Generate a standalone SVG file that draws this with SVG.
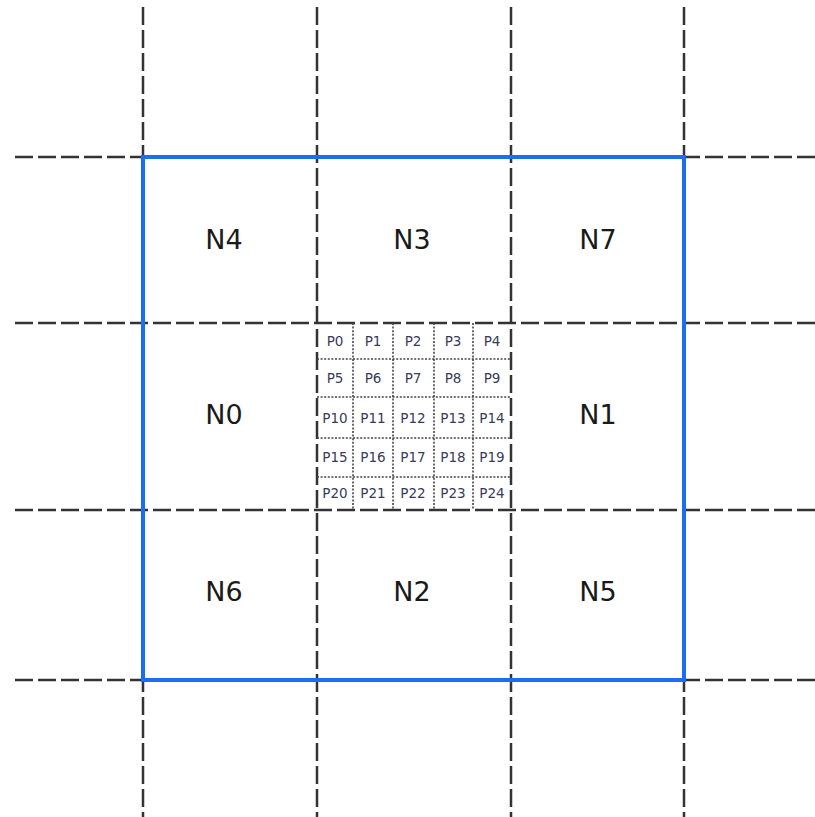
<svg xmlns="http://www.w3.org/2000/svg" width="815" height="817" viewBox="0 0 815 817">
<style>
.grid{stroke:#333;stroke-width:2.5;stroke-dasharray:18 5;fill:none}
.dot{stroke:#444;stroke-width:1.6;stroke-dasharray:2 1.6;fill:none}
.n{font-family:"DejaVu Sans",Verdana,sans-serif;font-size:27px;fill:#1a1a1a;text-anchor:middle}
.p{font-family:"DejaVu Sans",Verdana,sans-serif;font-size:13.5px;fill:#3a3a5a;text-anchor:middle}
.box{stroke:#1b6ef0;stroke-width:4;fill:none}
</style>
<rect width="815" height="817" fill="#fff"/>
<g id="connectors">
<g id="grid-lines">
<line class="grid" x1="143" y1="7" x2="143" y2="817"/>
<line class="grid" x1="317" y1="7" x2="317" y2="817"/>
<line class="grid" x1="511" y1="7" x2="511" y2="817"/>
<line class="grid" x1="684" y1="7" x2="684" y2="817"/>
<line class="grid" x1="15" y1="157" x2="815" y2="157"/>
<line class="grid" x1="15" y1="323" x2="815" y2="323"/>
<line class="grid" x1="15" y1="510" x2="815" y2="510"/>
<line class="grid" x1="15" y1="680" x2="815" y2="680"/>
</g>
<g id="inner-grid">
<line class="dot" x1="353" y1="323" x2="353" y2="510"/>
<line class="dot" x1="393" y1="323" x2="393" y2="510"/>
<line class="dot" x1="434" y1="323" x2="434" y2="510"/>
<line class="dot" x1="473" y1="323" x2="473" y2="510"/>
<line class="dot" x1="317" y1="359" x2="511" y2="359"/>
<line class="dot" x1="317" y1="397" x2="511" y2="397"/>
<line class="dot" x1="317" y1="438" x2="511" y2="438"/>
<line class="dot" x1="317" y1="477" x2="511" y2="477"/>
</g>
</g>
<rect id="window" class="box" x="143" y="157" width="541" height="523"/>
<g id="N4"><text class="n" x="224" y="249">N4</text></g>
<g id="N3"><text class="n" x="412" y="249">N3</text></g>
<g id="N7"><text class="n" x="598" y="249">N7</text></g>
<g id="N0"><text class="n" x="224" y="424">N0</text></g>
<g id="N1"><text class="n" x="598" y="424">N1</text></g>
<g id="N6"><text class="n" x="224" y="601">N6</text></g>
<g id="N2"><text class="n" x="412" y="601">N2</text></g>
<g id="N5"><text class="n" x="598" y="601">N5</text></g>
<g id="cells">
<g id="P0"><text class="p" x="335" y="346">P0</text></g>
<g id="P1"><text class="p" x="373" y="346">P1</text></g>
<g id="P2"><text class="p" x="413" y="346">P2</text></g>
<g id="P3"><text class="p" x="453" y="346">P3</text></g>
<g id="P4"><text class="p" x="492" y="346">P4</text></g>
<g id="P5"><text class="p" x="335" y="383">P5</text></g>
<g id="P6"><text class="p" x="373" y="383">P6</text></g>
<g id="P7"><text class="p" x="413" y="383">P7</text></g>
<g id="P8"><text class="p" x="453" y="383">P8</text></g>
<g id="P9"><text class="p" x="492" y="383">P9</text></g>
<g id="P10"><text class="p" x="335" y="423">P10</text></g>
<g id="P11"><text class="p" x="373" y="423">P11</text></g>
<g id="P12"><text class="p" x="413" y="423">P12</text></g>
<g id="P13"><text class="p" x="453" y="423">P13</text></g>
<g id="P14"><text class="p" x="492" y="423">P14</text></g>
<g id="P15"><text class="p" x="335" y="462">P15</text></g>
<g id="P16"><text class="p" x="373" y="462">P16</text></g>
<g id="P17"><text class="p" x="413" y="462">P17</text></g>
<g id="P18"><text class="p" x="453" y="462">P18</text></g>
<g id="P19"><text class="p" x="492" y="462">P19</text></g>
<g id="P20"><text class="p" x="335" y="498">P20</text></g>
<g id="P21"><text class="p" x="373" y="498">P21</text></g>
<g id="P22"><text class="p" x="413" y="498">P22</text></g>
<g id="P23"><text class="p" x="453" y="498">P23</text></g>
<g id="P24"><text class="p" x="492" y="498">P24</text></g>
</g>
</svg>
